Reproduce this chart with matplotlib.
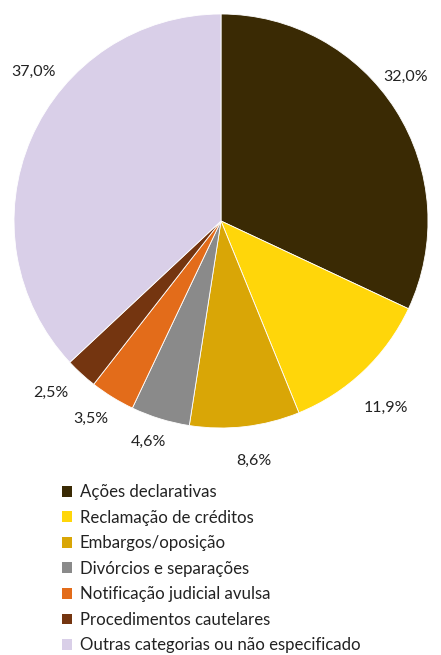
import matplotlib
matplotlib.use("Agg")
import matplotlib.pyplot as plt
from matplotlib.patches import Patch

categories = ["Ações declarativas", "Reclamação de créditos", "Embargos/oposição",
              "Divórcios e separações", "Notificação judicial avulsa",
              "Procedimentos cautelares", "Outras categorias ou não especificado"]
values = [32.0, 11.9, 8.6, 4.6, 3.5, 2.5, 37.0]
labels = ["32,0%", "11,9%", "8,6%", "4,6%", "3,5%", "2,5%", "37,0%"]
colors = ["#3a2a04", "#ffd60a", "#d9a606", "#8a8a8a", "#e36c1a", "#743510", "#d9cfe8"]

W, H = 441, 655
fig = plt.figure(figsize=(W/100, H/100), dpi=100)
ax = fig.add_axes([0, 0, 1, 1])

cx, cy, R = 221, H - 221, 207
wedges, _ = ax.pie(values, colors=colors, startangle=90, counterclock=False,
                   center=(cx, cy), radius=R, frame=True,
                   wedgeprops=dict(edgecolor="white", linewidth=0.6))
ax.set_xlim(0, W)
ax.set_ylim(0, H)
ax.set_aspect("auto")
ax.axis("off")

label_pos = [(406, 77), (386, 408), (254, 461), (148, 442), (91, 419), (51, 393), (34, 72)]
for t, (x, y) in zip(labels, label_pos):
    ax.text(x, H - y, t, ha="center", va="center", fontsize=11.5, family="Lato", color="#222222")

handles = [Patch(facecolor=c, edgecolor="none") for c in colors]
leg = ax.legend(handles, categories, loc="upper left", bbox_to_anchor=(62/W, 1 - 484/H),
                frameon=False, prop=dict(family="Lato", size=12.1), handlelength=0.62,
                handleheight=0.62, handletextpad=0.45, labelspacing=0.57, borderpad=0, borderaxespad=0)
for txt in leg.get_texts():
    txt.set_color("#222222")

fig.savefig("out.png", dpi=100)
